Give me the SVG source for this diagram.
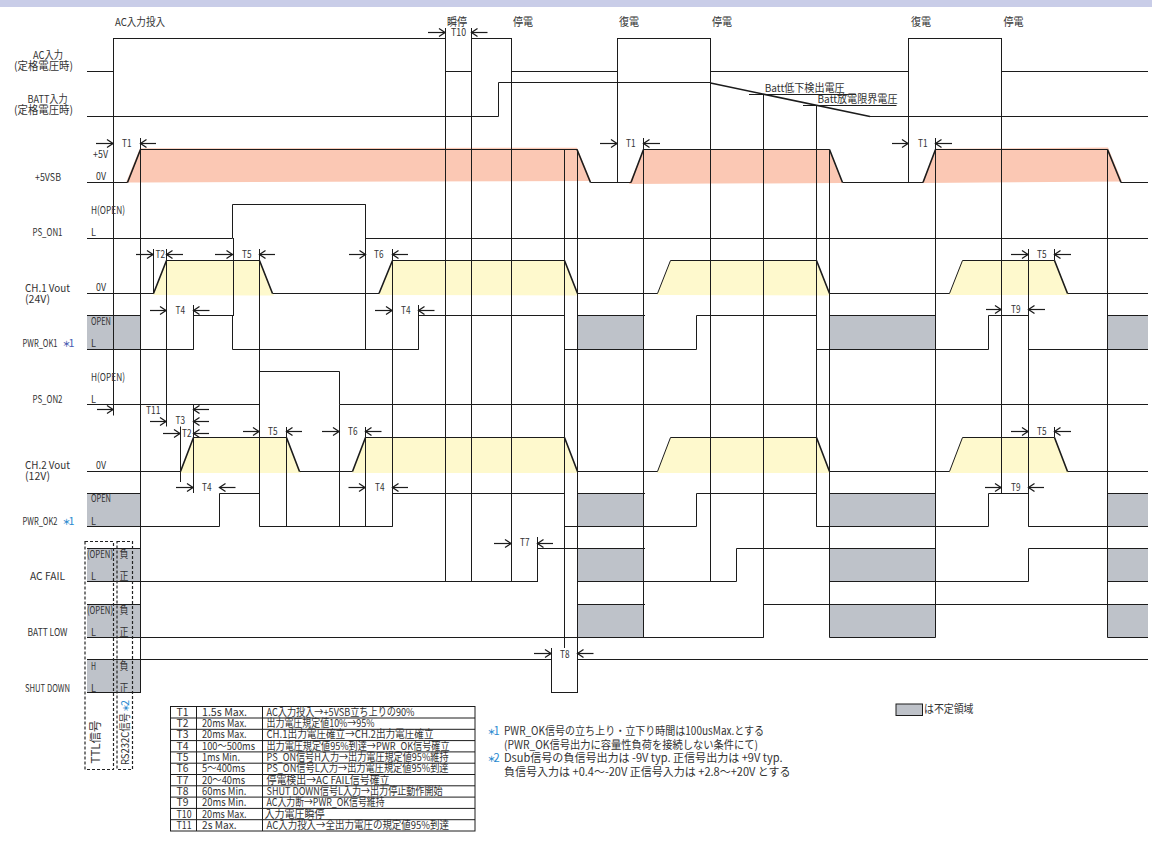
<svg xmlns="http://www.w3.org/2000/svg" width="1152" height="843" viewBox="0 0 1152 843">
<style>
text{font-family:"Noto Sans CJK JP","Liberation Sans",sans-serif;font-size:10.8px;fill:#333}
.n{font-size:11.2px}
.b1{fill:#4a5cb0}
.b2{fill:#2a8ad0}
.star{font-size:8px;font-weight:700}
.l{fill:none;stroke:#1c1c1c;stroke-width:1}
.s{fill:none;stroke:#1c1c1c;stroke-width:1;stroke-linejoin:miter}
.h{fill:none;stroke:#1c1c1c;stroke-width:1.6}
.a{stroke:#1c1c1c;stroke-width:1.2;fill:none;marker-end:url(#open)}
.g{fill:#bec2c9}
.p{fill:#fbc8b4}
.y{fill:#fef9cd}
.d{fill:none;stroke:#222;stroke-width:1.2;stroke-dasharray:3 2}
</style>
<defs>
<marker id="open" markerUnits="userSpaceOnUse" markerWidth="12" markerHeight="12" refX="10.5" refY="6" orient="auto"><path d="M4.5,2 L10.5,6 L4.5,10" fill="none" stroke="#1c1c1c" stroke-width="1.3"/></marker>
</defs>
<rect x="0" y="0" width="1152" height="7" fill="#c9cde8"/>
<g id="fills">
<path class="p" d="M126,182.5 L140,148.3 L577,147.7 L591,181 L400,181.5 L140,182.5Z"/>
<path class="p" d="M629,184 L644,149.5 L829,149.5 L843,183 Z"/>
<path class="p" d="M922,183 L936,148.8 L1108,147.5 L1122,181.5 Z"/>
<path class="y" d="M153,295 L166.5,260.5 L259.5,260.5 L274,295.5Z M379,295 L392.5,260.5 L564.5,260.5 L578,295.5Z M657,295 L670.5,260.5 L816,260.5 L830,295.5Z M949,295 L962,260.5 L1055,260.5 L1069,295Z"/>
<path class="y" d="M180,473 L193.5,438 L286,438 L301,473Z M352,473 L366,438 L564.5,438 L578,473Z M657,473 L670.5,438 L816,438 L830,473Z M949,473 L962,438 L1055,438 L1069,473Z"/>
<g id="undefined-regions">
<rect class="g" x="87" y="315.5" width="53.5" height="34"/>
<rect class="g" x="87" y="493.5" width="53.5" height="33"/>
<rect class="g" x="87" y="548.5" width="53.5" height="33"/>
<rect class="g" x="87" y="604.5" width="53.5" height="33"/>
<rect class="g" x="87" y="659.5" width="53.5" height="33"/>
<rect class="g" x="577.5" y="315.5" width="66" height="34"/>
<rect class="g" x="577.5" y="493.5" width="66" height="33"/>
<rect class="g" x="577.5" y="548.5" width="66" height="33"/>
<rect class="g" x="577.5" y="604.5" width="66" height="33"/>
<rect class="g" x="829.5" y="315.5" width="106" height="34"/>
<rect class="g" x="829.5" y="493.5" width="106" height="33"/>
<rect class="g" x="829.5" y="548.5" width="106" height="33"/>
<rect class="g" x="829.5" y="604.5" width="106" height="33"/>
<rect class="g" x="1107.5" y="315.5" width="40.5" height="34"/>
<rect class="g" x="1107.5" y="493.5" width="40.5" height="33"/>
<rect class="g" x="1107.5" y="548.5" width="40.5" height="33"/>
<rect class="g" x="1107.5" y="604.5" width="40.5" height="33"/>
</g>
</g>
<g id="connectors">
<g id="signals">
<path id="sig-ac" class="s" d="M87,71.5H113.5V38.5H445.5V71.5H471.5V38.5H511.5V71.5H617.5V38.5H710.5V71.5H908.5V38.5H1001.5V71.5H1148"/>
<path id="sig-batt" class="s" d="M87,116.5H498.5V82.5H710.5"/>
<path class="h" d="M710.5,83 L870,116.5"/>
<path class="s" d="M870,116.5H1148"/>
<path class="s" d="M749,94.5H856M803,105.5H896.5"/>
<path id="sig-5vsb" class="s" d="M87,182.5H127.5M140.5,149.5H577M590.5,182.5H631M643.5,149.5H829.5M842.5,182.5H923M935.5,149.5H1107.5M1121,182.5H1148"/>
<path class="h" d="M127.5,182.5L140.5,149.5M577,149.5L590.5,182.5M631,182.5L643.5,149.5M829.5,149.5L842.5,182.5M923,182.5L935.5,149.5M1107.5,149.5L1121,182.5"/>
<path id="sig-pson1" class="s" d="M87,238.5H232.5V204.5H365.5V238.5H1148"/>
<path id="sig-ch1" class="s" d="M87,293.5H153.5M166.5,260.5H259.5M272.5,293.5H379M392.5,260.5H564.5M577.5,293.5H657.5M670.5,260.5H816.5M829.5,293.5H949.5M962.5,260.5H1054.5M1067.5,293.5H1148"/>
<path class="h" d="M153.5,293.5L166.5,260.5M259.5,260.5L272.5,293.5M379,293.5L392.5,260.5M564.5,260.5L577.5,293.5M816.5,260.5L829.5,293.5M1054.5,260.5L1067.5,293.5"/>
<path class="s" d="M657.5,293.5L670.5,260.5M949.5,293.5L962.5,260.5"/>
<path id="sig-ok1" class="s" d="M87,315.5H140.5M87,349.5H193.5V315.5H233.5V238.5M232.5,315.5V349.5H418.5V315.5H564.5M564.5,349.5H696.5V315.5H816.5V349.5H988.5V315.5H1028.5V349.5H1148M577.5,315.5H645M829.5,315.5H935.5M1107.5,315.5H1148"/>
<path id="sig-pson2" class="s" d="M87,404.5H259.5V371.5H339.5V404.5H1148"/>
<path id="sig-ch2" class="s" d="M87,471.5H180.5M193.5,437.5H286.5M299.5,471.5H352.5M365.5,437.5H564.5M577.5,471.5H657.5M670.5,437.5H816.5M829.5,471.5H949.5M962.5,437.5H1054.5M1067.5,471.5H1148"/>
<path class="h" d="M180.5,471.5L193.5,437.5M286.5,437.5L299.5,471.5M352.5,471.5L365.5,437.5M564.5,437.5L577.5,471.5M816.5,437.5L829.5,471.5M1054.5,437.5L1067.5,471.5"/>
<path class="s" d="M657.5,471.5L670.5,437.5M949.5,471.5L962.5,437.5"/>
<path id="sig-ok2" class="s" d="M87,493.5H140.5M87,526.5H219.5V493.5H259.5V526.5H392.5V493.5H564.5M564.5,526.5H696.5V493.5H816.5V526.5H988.5V493.5H1028.5V526.5H1148M577.5,493.5H645M829.5,493.5H935.5M1107.5,493.5H1148"/>
<path id="sig-acfail" class="s" d="M87,548.5H140.5M87,581.5H537.5V548.5H645M577.5,581.5H736.5V548.5H935.5M935.5,581.5H1028.5V548.5H1148M829.5,581.5H935.5M1107.5,581.5H1148"/>
<path id="sig-battlow" class="s" d="M87,604.5H140.5M87,637.5H763.5V604.5H1148M577.5,604.5H645M829.5,637.5H935.5M1107.5,637.5H1148"/>
<path id="sig-shutdown" class="s" d="M87,659.5H551.5V692.5H577.5V659.5H1148M87,692.5H140.5"/>
</g>
<g id="verticals">
<path class="l" d="M113.5,38V415.5M140.5,138V693M153.5,249V293.5M166.5,249V426.5M193.5,305V349.5M193.5,405V493M180.5,426.5V482M233.5,238V316M259.5,249V526.5M286.5,427V526.5M339.5,404.5V526.5M365.5,204.5V349.5M365.5,427V526.5M392.5,249V526.5M418.5,305V349.5M445.5,28V582M471.5,28V582M511.5,38V582M537.5,537V582M551.5,648V693M564.5,149.5V648M577.5,149.5V693M617.5,38V182.5M643.5,138V637.5M710.5,38V582M763.5,94.5V637.5M816.5,105.5V526.5M829.5,149.5V637.5M908.5,38V182.5M935.5,138V637.5M1001.5,38V493.5M1028.5,249V526.5M1054.5,249V260.5M1054.5,427V437.5M1107.5,149.5V637.5"/>
</g>
<g id="arrows">
<path class="a" d="M96,143.5H113"/><path class="a" d="M156,143.5H140.5"/>
<path class="a" d="M136,254.5H153"/><path class="a" d="M183,254.5H166.5"/>
<path class="a" d="M215,254.5H232.5"/><path class="a" d="M275,254.5H259.5"/>
<path class="a" d="M349,254.5H365.5"/><path class="a" d="M408,254.5H392.5"/>
<path class="a" d="M428,32.5H445"/><path class="a" d="M487.5,32.5H471.5"/>
<path class="a" d="M600,143.5H617"/><path class="a" d="M660,143.5H643.5"/>
<path class="a" d="M892,143.5H908"/><path class="a" d="M952,143.5H935.5"/>
<path class="a" d="M1011,254.5H1028"/><path class="a" d="M1071,254.5H1054.5"/>
<path class="a" d="M150,310.5H166"/><path class="a" d="M209.5,310.5H193.5"/>
<path class="a" d="M375,310.5H392"/><path class="a" d="M434.5,310.5H418.5"/>
<path class="a" d="M986,309.5H1001"/><path class="a" d="M1045,309.5H1028.5"/>
<path class="a" d="M97,409.5H113"/><path class="a" d="M209,409.5H193.5"/>
<path class="a" d="M150,421.5H166"/><path class="a" d="M209,421.5H193.5"/>
<path class="a" d="M163,433.5H180"/><path class="a" d="M209,433.5H193.5"/>
<path class="a" d="M243,431.5H259"/><path class="a" d="M302,431.5H286.5"/>
<path class="a" d="M322,431.5H339"/><path class="a" d="M381.5,431.5H365.5"/>
<path class="a" d="M176,487.5H193"/><path class="a" d="M235.5,487.5H219.5"/>
<path class="a" d="M348.5,487.5H365"/><path class="a" d="M408,487.5H392.5"/>
<path class="a" d="M985,487.5H1001"/><path class="a" d="M1044,487.5H1028.5"/>
<path class="a" d="M1011,431.5H1028"/><path class="a" d="M1071,431.5H1054.5"/>
<path class="a" d="M494,543.5H511"/><path class="a" d="M553,543.5H537.5"/>
<path class="a" d="M534,653.5H551"/><path class="a" d="M593.5,653.5H577.5"/>
</g>
<rect class="d" x="85" y="541.5" width="28.5" height="228"/>
<rect class="d" x="117" y="541.5" width="15.5" height="228"/>
</g>
<g id="top-labels">
<text x="115" y="26" textLength="50" lengthAdjust="spacingAndGlyphs">AC入力投入</text>
<text x="447" y="26" textLength="20" lengthAdjust="spacingAndGlyphs">瞬停</text>
<text x="451" y="36" textLength="15" lengthAdjust="spacingAndGlyphs">T10</text>
<text x="513" y="26" textLength="20" lengthAdjust="spacingAndGlyphs">停電</text>
<text x="619" y="26" textLength="20" lengthAdjust="spacingAndGlyphs">復電</text>
<text x="712" y="26" textLength="20" lengthAdjust="spacingAndGlyphs">停電</text>
<text x="911" y="26" textLength="20" lengthAdjust="spacingAndGlyphs">復電</text>
<text x="1003.5" y="26" textLength="20" lengthAdjust="spacingAndGlyphs">停電</text>
<text x="764.7" y="92" textLength="80" lengthAdjust="spacingAndGlyphs">Batt低下検出電圧</text>
<text x="817.5" y="103" textLength="80" lengthAdjust="spacingAndGlyphs">Batt放電限界電圧</text>
</g>
<g id="signal-labels">
<text x="33" y="59" textLength="30" lengthAdjust="spacingAndGlyphs">AC入力</text>
<text x="14" y="70" textLength="59" lengthAdjust="spacingAndGlyphs">(定格電圧時)</text>
<text x="27.5" y="103" textLength="40" lengthAdjust="spacingAndGlyphs">BATT入力</text>
<text x="14" y="114" textLength="59" lengthAdjust="spacingAndGlyphs">(定格電圧時)</text>
<text x="35" y="181" textLength="26" lengthAdjust="spacingAndGlyphs">+5VSB</text>
<text x="93" y="158" textLength="15" lengthAdjust="spacingAndGlyphs">+5V</text>
<text x="96" y="180" textLength="10" lengthAdjust="spacingAndGlyphs">0V</text>
<text x="91" y="214" textLength="34" lengthAdjust="spacingAndGlyphs">H(OPEN)</text>
<text x="32.5" y="236" textLength="30" lengthAdjust="spacingAndGlyphs">PS_ON1</text>
<text x="91" y="236" textLength="5" lengthAdjust="spacingAndGlyphs">L</text>
<text x="25" y="292" textLength="45" lengthAdjust="spacingAndGlyphs">CH.1 Vout</text>
<text x="25" y="303" textLength="25" lengthAdjust="spacingAndGlyphs">(24V)</text>
<text x="96" y="291" textLength="10" lengthAdjust="spacingAndGlyphs">0V</text>
<text x="91" y="325" textLength="20" lengthAdjust="spacingAndGlyphs">OPEN</text>
<text x="91" y="347" textLength="5" lengthAdjust="spacingAndGlyphs">L</text>
<text x="22.5" y="347" textLength="35" lengthAdjust="spacingAndGlyphs">PWR_OK1</text>
<text class="b1" x="62.5" y="347"><tspan class="star">＊</tspan><tspan dx="-2">1</tspan></text>
<text x="91" y="380.5" textLength="34" lengthAdjust="spacingAndGlyphs">H(OPEN)</text>
<text x="32.5" y="403" textLength="30" lengthAdjust="spacingAndGlyphs">PS_ON2</text>
<text x="91" y="403" textLength="5" lengthAdjust="spacingAndGlyphs">L</text>
<text x="25" y="469" textLength="45" lengthAdjust="spacingAndGlyphs">CH.2 Vout</text>
<text x="25" y="480" textLength="25" lengthAdjust="spacingAndGlyphs">(12V)</text>
<text x="96" y="469" textLength="10" lengthAdjust="spacingAndGlyphs">0V</text>
<text x="91" y="502" textLength="20" lengthAdjust="spacingAndGlyphs">OPEN</text>
<text x="91" y="525" textLength="5" lengthAdjust="spacingAndGlyphs">L</text>
<text x="22.5" y="525" textLength="35" lengthAdjust="spacingAndGlyphs">PWR_OK2</text>
<text class="b2" x="62.5" y="525"><tspan class="star">＊</tspan><tspan dx="-2">1</tspan></text>
<text x="30" y="580" textLength="35" lengthAdjust="spacingAndGlyphs">AC FAIL</text>
<text x="27.5" y="636" textLength="40" lengthAdjust="spacingAndGlyphs">BATT LOW</text>
<text x="25" y="691.5" textLength="45" lengthAdjust="spacingAndGlyphs">SHUT DOWN</text>
<text x="87" y="558" textLength="26" lengthAdjust="spacingAndGlyphs">(OPEN)</text>
<text x="91" y="580" textLength="5" lengthAdjust="spacingAndGlyphs">L</text>
<text x="119.5" y="558" textLength="9" lengthAdjust="spacingAndGlyphs">負</text>
<text x="119.5" y="579.5" textLength="9" lengthAdjust="spacingAndGlyphs">正</text>
<text x="87" y="613.5" textLength="26" lengthAdjust="spacingAndGlyphs">(OPEN)</text>
<text x="91" y="636" textLength="5" lengthAdjust="spacingAndGlyphs">L</text>
<text x="119.5" y="613.5" textLength="9" lengthAdjust="spacingAndGlyphs">負</text>
<text x="119.5" y="636" textLength="9" lengthAdjust="spacingAndGlyphs">正</text>
<text x="91" y="669.5" textLength="5" lengthAdjust="spacingAndGlyphs">H</text>
<text x="91" y="691.5" textLength="5" lengthAdjust="spacingAndGlyphs">L</text>
<text x="119.5" y="669.5" textLength="9" lengthAdjust="spacingAndGlyphs">負</text>
<text x="119.5" y="691.5" textLength="9" lengthAdjust="spacingAndGlyphs">正</text>
<text transform="translate(99.5,763.5) rotate(-90)" textLength="43" lengthAdjust="spacingAndGlyphs" style="font-size:12px">TTL信号</text>
<text transform="translate(129,765) rotate(-90)" textLength="52" lengthAdjust="spacingAndGlyphs">RS232C信号</text>
<text class="b2" transform="translate(129,712) rotate(-90)"><tspan class="star">＊</tspan><tspan dx="-2">2</tspan></text>
</g>
<g id="timing-labels">
<text x="122" y="147" textLength="9.5" lengthAdjust="spacingAndGlyphs">T1</text>
<text x="626" y="147" textLength="9.5" lengthAdjust="spacingAndGlyphs">T1</text>
<text x="918" y="147" textLength="9.5" lengthAdjust="spacingAndGlyphs">T1</text>
<text x="155.5" y="258" textLength="9.5" lengthAdjust="spacingAndGlyphs">T2</text>
<text x="242" y="258" textLength="9.5" lengthAdjust="spacingAndGlyphs">T5</text>
<text x="374" y="258" textLength="9.5" lengthAdjust="spacingAndGlyphs">T6</text>
<text x="1037" y="258" textLength="9.5" lengthAdjust="spacingAndGlyphs">T5</text>
<text x="175.5" y="313.5" textLength="9.5" lengthAdjust="spacingAndGlyphs">T4</text>
<text x="401" y="313.5" textLength="9.5" lengthAdjust="spacingAndGlyphs">T4</text>
<text x="1011" y="313" textLength="9.5" lengthAdjust="spacingAndGlyphs">T9</text>
<text x="146" y="413.5" textLength="14.5" lengthAdjust="spacingAndGlyphs">T11</text>
<text x="175.5" y="424" textLength="9.5" lengthAdjust="spacingAndGlyphs">T3</text>
<text x="182" y="436.5" textLength="9.5" lengthAdjust="spacingAndGlyphs">T2</text>
<text x="268" y="435" textLength="9.5" lengthAdjust="spacingAndGlyphs">T5</text>
<text x="348" y="435" textLength="9.5" lengthAdjust="spacingAndGlyphs">T6</text>
<text x="1037" y="435" textLength="9.5" lengthAdjust="spacingAndGlyphs">T5</text>
<text x="202" y="491" textLength="9.5" lengthAdjust="spacingAndGlyphs">T4</text>
<text x="375" y="491" textLength="9.5" lengthAdjust="spacingAndGlyphs">T4</text>
<text x="1011" y="491" textLength="9.5" lengthAdjust="spacingAndGlyphs">T9</text>
<text x="520" y="546" textLength="9.5" lengthAdjust="spacingAndGlyphs">T7</text>
<text x="560" y="657.5" textLength="9.5" lengthAdjust="spacingAndGlyphs">T8</text>
</g>
<g id="spec-table">
<rect class="l" x="170.5" y="706.5" width="304.5" height="124.5"/>
<path class="l" d="M196.5,706.5V831M262.5,706.5V831M170.5,718H475M170.5,729.3H475M170.5,740.6H475M170.5,751.9H475M170.5,763.2H475M170.5,774.5H475M170.5,785.8H475M170.5,797.1H475M170.5,808.4H475M170.5,819.7H475"/>
<text x="176.5" y="715.8" textLength="12" lengthAdjust="spacingAndGlyphs">T1</text><text x="202" y="715.8" textLength="45" lengthAdjust="spacingAndGlyphs">1.5s Max.</text><text x="266.5" y="715.8" textLength="148" lengthAdjust="spacingAndGlyphs">AC入力投入→+5VSB立ち上りの90%</text>
<text x="176.5" y="727.1" textLength="12" lengthAdjust="spacingAndGlyphs">T2</text><text x="202" y="727.1" textLength="44.5" lengthAdjust="spacingAndGlyphs">20ms Max.</text><text x="266.5" y="727.1" textLength="108" lengthAdjust="spacingAndGlyphs">出力電圧規定値10%→95%</text>
<text x="176.5" y="738.4" textLength="12" lengthAdjust="spacingAndGlyphs">T3</text><text x="202" y="738.4" textLength="44.5" lengthAdjust="spacingAndGlyphs">20ms Max.</text><text x="266.5" y="738.4" textLength="167" lengthAdjust="spacingAndGlyphs">CH.1出力電圧確立→CH.2出力電圧確立</text>
<text x="176.5" y="749.7" textLength="12" lengthAdjust="spacingAndGlyphs">T4</text><text x="202" y="749.7" textLength="53" lengthAdjust="spacingAndGlyphs">100〜500ms</text><text x="266.5" y="749.7" textLength="183" lengthAdjust="spacingAndGlyphs">出力電圧規定値95%到達→PWR_OK信号確立</text>
<text x="176.5" y="761" textLength="12" lengthAdjust="spacingAndGlyphs">T5</text><text x="202" y="761" textLength="38" lengthAdjust="spacingAndGlyphs">1ms Min.</text><text x="266.5" y="761" textLength="182" lengthAdjust="spacingAndGlyphs">PS_ON信号H入力→出力電圧規定値95%維持</text>
<text x="176.5" y="772.3" textLength="12" lengthAdjust="spacingAndGlyphs">T6</text><text x="202" y="772.3" textLength="43" lengthAdjust="spacingAndGlyphs">5〜400ms</text><text x="266.5" y="772.3" textLength="182" lengthAdjust="spacingAndGlyphs">PS_ON信号L入力→出力電圧規定値95%到達</text>
<text x="176.5" y="783.6" textLength="12" lengthAdjust="spacingAndGlyphs">T7</text><text x="202" y="783.6" textLength="43" lengthAdjust="spacingAndGlyphs">20〜40ms</text><text x="266.5" y="783.6" textLength="123" lengthAdjust="spacingAndGlyphs">停電検出→AC FAIL信号確立</text>
<text x="176.5" y="794.9" textLength="12" lengthAdjust="spacingAndGlyphs">T8</text><text x="202" y="794.9" textLength="44.5" lengthAdjust="spacingAndGlyphs">60ms Min.</text><text x="266.5" y="794.9" textLength="176" lengthAdjust="spacingAndGlyphs">SHUT DOWN信号L入力→出力停止動作開始</text>
<text x="176.5" y="806.2" textLength="12" lengthAdjust="spacingAndGlyphs">T9</text><text x="202" y="806.2" textLength="44.5" lengthAdjust="spacingAndGlyphs">20ms Min.</text><text x="266.5" y="806.2" textLength="118" lengthAdjust="spacingAndGlyphs">AC入力断→PWR_OK信号維持</text>
<text x="176.5" y="817.5" textLength="15" lengthAdjust="spacingAndGlyphs">T10</text><text x="202" y="817.5" textLength="44.5" lengthAdjust="spacingAndGlyphs">20ms Max.</text><text x="264.5" y="817.5" textLength="60" lengthAdjust="spacingAndGlyphs">入力電圧瞬停</text>
<text x="176.5" y="828.8" textLength="15" lengthAdjust="spacingAndGlyphs">T11</text><text x="202" y="828.8" textLength="34.5" lengthAdjust="spacingAndGlyphs">2s Max.</text><text x="266.5" y="828.8" textLength="182.5" lengthAdjust="spacingAndGlyphs">AC入力投入→全出力電圧の規定値95%到達</text>
</g>
<g id="notes">
<rect class="g" x="896" y="704" width="26.5" height="11.5" stroke="#1c1c1c" stroke-width="1"/>
<text class="n" x="924" y="713" textLength="49.5" lengthAdjust="spacingAndGlyphs">は不定領域</text>
<text class="n b2" x="487.5" y="735"><tspan class="star">＊</tspan><tspan dx="-2">1</tspan></text>
<text class="n" x="504" y="735" textLength="260" lengthAdjust="spacingAndGlyphs">PWR_OK信号の立ち上り・立下り時間は100usMax.とする</text>
<text class="n" x="504" y="749" textLength="254" lengthAdjust="spacingAndGlyphs">(PWR_OK信号出力に容量性負荷を接続しない条件にて)</text>
<text class="n b2" x="487.5" y="762"><tspan class="star">＊</tspan><tspan dx="-2">2</tspan></text>
<text class="n" x="504" y="762" textLength="278.5" lengthAdjust="spacingAndGlyphs">Dsub信号の負信号出力は -9V typ. 正信号出力は +9V typ.</text>
<text class="n" x="504" y="775.5" textLength="286.5" lengthAdjust="spacingAndGlyphs">負信号入力は +0.4〜-20V 正信号入力は +2.8〜+20V とする</text>
</g>
</svg>
